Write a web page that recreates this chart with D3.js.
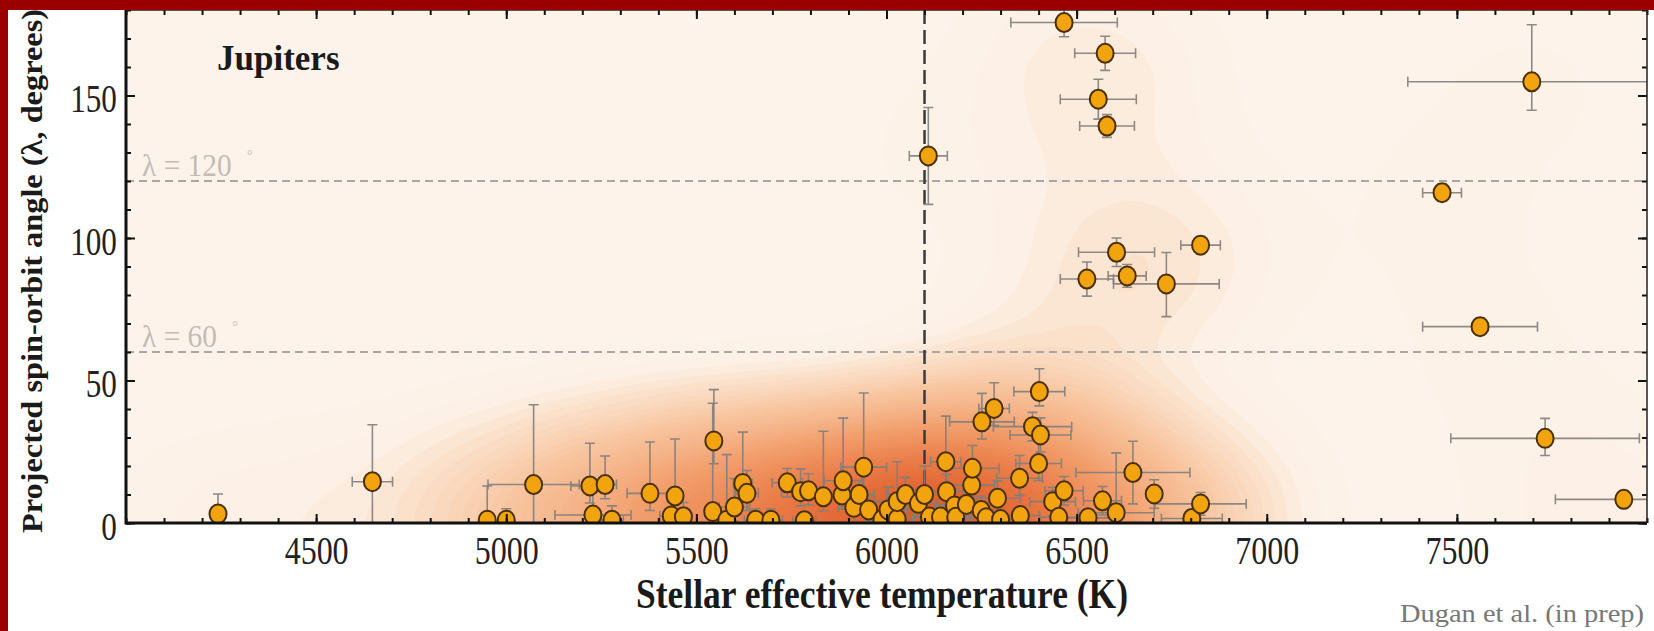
<!DOCTYPE html>
<html lang="en">
<head>
<meta charset="UTF-8">
<title>Spin-orbit angle vs stellar temperature</title>
<script src="https://cdnjs.cloudflare.com/ajax/libs/d3/7.9.0/d3.min.js"></script>
<style>
  body { margin: 0; background: #fff; overflow: hidden; }
  svg { display: block; }
</style>
</head>
<body>
<div id="root"></div>
<script>
// values
const teff = [4242, 4648, 4950, 5000, 5072, 5220, 5228, 5260, 5278, 5378, 5434, 5444, 5466, 5543, 5546, 5580, 5600, 5622, 5633, 5656,
  5696, 5739, 5774, 5784, 5795, 5834, 5883, 5886, 5914, 5928, 5940, 5953, 5988, 6004, 6028, 6028, 6050, 6084, 6100, 6113,
  6142, 6156, 6158, 6179, 6182, 6210, 6224, 6226, 6249, 6251, 6262, 6283, 6292, 6300, 6350, 6352, 6384, 6400, 6402, 6405,
  6437, 6453, 6467, 6530, 6568, 6604, 6648, 6704, 6803, 6826,
  6110, 6467, 6527, 6557, 6575, 6580, 6605, 6633, 6736, 6826, 7461, 7561, 7697, 7732, 7939]
const lambda = [3.2, 14.5, 1, 1, 13.5, 13, 2.8, 13.5, 1, 10.4, 2.5, 9.5, 2.2, 4, 28.8, 1, 5.6, 13.9, 10.4, 1,
  1, 14.1, 11, 0.8, 11.3, 9.2, 9.8, 14.8, 5.5, 10, 19.6, 4.6, 1.2, 4.6, 1.4, 7.5, 10, 6.9, 10, 2.1,
  2.1, 21.5, 11, 6, 2, 6.5, 13.3, 19.2, 4.4, 35.5, 1.8, 40.2, 8.7, 1.2, 15.7, 2.6, 33.8, 20.9, 46.1, 30.9,
  7.5, 2, 11.3, 1.8, 7.8, 3.6, 17.7, 10.2, 1.6, 6.7,
  128.8, 175.6, 85.6, 148.7, 164.8, 139.3, 95, 86.7, 83.9, 97.5, 115.9, 68.9, 154.8, 29.7, 8.3]
const teffErr = [0, 53, 10, 0, 120, 50, 100, 30, 30, 60, 30, 20, 20, 20, 15, 20, 40, 25, 30, 30,
  30, 40, 50, 30, 30, 40, 40, 50, 40, 40, 60, 40, 40, 50, 40, 60, 50, 50, 60, 40,
  40, 40, 50, 50, 40, 60, 60, 70, 50, 85, 40, 40, 60, 50, 60, 50, 103, 60, 67, 80,
  60, 50, 50, 60, 50, 100, 150, 20, 80, 120,
  50, 140, 70, 100, 80, 72, 100, 50, 139, 52, 51, 151, 326, 248, 180]
const lamErrUp = [7, 20, 12, 4, 28, 15, 8, 10, 5, 18, 5, 20, 5, 38, 18, 23, 10, 18, 8, 4,
  4, 5, 8, 3, 6, 23, 6, 22, 5, 5, 26, 5, 3, 8, 3, 14, 6, 5, 10, 3,
  4, 16, 6, 6, 3, 5, 8, 8, 5, 10, 3, 9, 6, 3, 8, 3, 5, 9, 8, 6,
  5, 3, 5, 3, 5, 21, 11, 5, 3, 4,
  17, 5, 6, 7, 6, 4, 5, 4, 11, 3, 3, 3, 20, 7, 3]
const lamErrDown = [3, 14.5, 1, 1, 13.5, 6, 2.8, 5, 1, 6, 2.5, 6, 2.2, 4, 8, 1, 5, 6, 6, 1,
  1, 5, 5, 0.8, 5, 5, 5, 6, 5, 5, 8, 4, 1.2, 4, 1.4, 5, 5, 5, 6, 2.1,
  2.1, 8, 5, 5, 2, 5, 6, 6, 4, 6, 1.8, 6, 5, 1.2, 6, 2.6, 5, 6, 5, 6,
  5, 2, 5, 1.8, 5, 3.6, 11, 5, 1.6, 4,
  17, 5, 6, 7, 6, 4, 5, 4, 11.5, 3, 3, 3, 10, 6, 3]

const xTicks = [4500, 5000, 5500, 6000, 6500, 7000, 7500]
const yTicks = [0, 50, 100, 150]
const refLines = [60, 120]
const kraftBreak = 6100

const W = 1654, H = 631
const plot = { left: 126, right: 1647, top: 10, bottom: 523 }

const svg = d3.select('#root').append('svg')
  .attr('width', W).attr('height', H)

svg.append('rect').attr('width', W).attr('height', H).attr('fill', '#fff')

const x = d3.scaleLinear().domain([4000, 8000]).range([plot.left, plot.right])
const y = d3.scaleLinear().domain([0, 180]).range([plot.bottom, plot.top])

svg.append('clipPath').attr('id', 'clip')
  .append('rect')
  .attr('x', plot.left).attr('y', plot.top)
  .attr('width', plot.right - plot.left).attr('height', plot.bottom - plot.top)

const inner = svg.append('g').attr('clip-path', 'url(#clip)')

// background density (reflected about lambda = 0)
inner.append('rect')
  .attr('x', plot.left).attr('y', plot.top)
  .attr('width', plot.right - plot.left).attr('height', plot.bottom - plot.top)
  .attr('fill', '#fdf3eb')

const stretch = 1.3
const pts = teff.flatMap((t, i) => [[x(t), y(lambda[i])], [x(t), y(-lambda[i])]])
const dens = d3.contourDensity()
  .x(d => d[0])
  .y(d => d[1] * stretch)
  .size([W, H * stretch])
  .bandwidth(80)
  .thresholds(70)(pts)

const maxD = d3.max(dens, d => d.value)
const heat = d3.scaleLinear()
  .domain([0, 0.04, 0.08, 0.2, 0.45, 0.75, 1].map(f => f * maxD))
  .range(['#fdf3eb', '#fdf0e5', '#fbe2cd', '#f8c7a2', '#f2a06e', '#e97944', '#de5d2a'])

inner.append('g')
  .attr('transform', `scale(1, ${1 / stretch})`)
  .selectAll('path')
  .data(dens)
  .join('path')
  .attr('d', d3.geoPath())
  .attr('fill', d => heat(d.value))

// reference lines
inner.selectAll('.ref')
  .data(refLines)
  .join('line')
  .attr('x1', plot.left).attr('x2', plot.right)
  .attr('y1', d => y(d)).attr('y2', d => y(d))
  .attr('stroke', '#a9a6a3').attr('stroke-width', 2)
  .attr('stroke-dasharray', '8,5')

inner.append('line')
  .attr('x1', x(kraftBreak)).attr('x2', x(kraftBreak))
  .attr('y1', plot.top).attr('y2', plot.bottom)
  .attr('stroke', '#3a3a3a').attr('stroke-width', 2.5)
  .attr('stroke-dasharray', '14,6')

const refLab = svg.append('g')
  .attr('font-family', "'Liberation Serif', serif")
  .attr('fill', '#c4bcb4')
refLines.forEach(v => {
  const t = refLab.append('text')
    .attr('transform', `translate(${plot.left + 16},${y(v) - 5}) scale(0.95,1)`)
    .attr('font-size', 31)
  t.append('tspan').text(`λ = ${v}`)
  t.append('tspan').attr('dx', 16).attr('dy', -16).attr('font-size', 15).text('°')
})

// error bars
const idx = d3.range(teff.length)
const bars = inner.append('g')
  .attr('stroke', '#817e7c').attr('stroke-width', 1.6).attr('fill', 'none')
  .attr('stroke-opacity', 0.9)
const cap = 5

idx.filter(i => teffErr[i] > 0).forEach(i => {
  const x0 = x(teff[i] - teffErr[i]), x1 = x(teff[i] + teffErr[i]), yy = y(lambda[i])
  bars.append('path')
    .attr('d', `M${x0},${yy}H${x1}M${x0},${yy - cap}V${yy + cap}M${x1},${yy - cap}V${yy + cap}`)
})
idx.forEach(i => {
  const y0 = y(Math.max(0, lambda[i] - lamErrDown[i])), y1 = y(lambda[i] + lamErrUp[i]), xx = x(teff[i])
  bars.append('path')
    .attr('d', `M${xx},${y0}V${y1}M${xx - cap},${y1}H${xx + cap}` +
      (lambda[i] - lamErrDown[i] > 0.5 ? `M${xx - cap},${y0}H${xx + cap}` : ''))
})

// planets
inner.append('g')
  .selectAll('ellipse')
  .data(idx)
  .join('ellipse')
  .attr('cx', i => x(teff[i]))
  .attr('cy', i => y(lambda[i]))
  .attr('rx', 8.5).attr('ry', 9.5)
  .attr('fill', '#f2a40e')
  .attr('stroke', '#4b2f05').attr('stroke-width', 2)

// frame and axes
const serif = "'Liberation Serif', 'Times New Roman', serif"

function styleAxis(g) {
  g.select('.domain').remove()
  g.selectAll('line').attr('stroke', '#111').attr('stroke-width', 2)
}

const xMinor = d3.range(4000, 8001, 100)
const yMinor = d3.range(0, 181, 10)

const xb = svg.append('g').attr('transform', `translate(0,${plot.bottom})`)
  .call(d3.axisBottom(x).tickValues(xMinor).tickSize(-5).tickFormat(''))
  .call(styleAxis)
xb.append('g').call(d3.axisBottom(x).tickValues(xTicks).tickSize(-9).tickPadding(13).tickFormat(d3.format('d')))
  .call(styleAxis)
  .selectAll('text')
  .attr('font-family', serif).attr('font-size', 40).attr('fill', '#222')
  .attr('transform', 'scale(0.8,1)')

const xt = svg.append('g').attr('transform', `translate(0,${plot.top})`)
  .call(d3.axisTop(x).tickValues(xMinor).tickSize(-5).tickFormat(''))
  .call(styleAxis)
xt.append('g').call(d3.axisTop(x).tickValues(xTicks).tickSize(-9).tickFormat(''))
  .call(styleAxis)

const yl = svg.append('g').attr('transform', `translate(${plot.left},0)`)
  .call(d3.axisLeft(y).tickValues(yMinor).tickSize(-5).tickFormat(''))
  .call(styleAxis)
yl.append('g').call(d3.axisLeft(y).tickValues(yTicks).tickSize(-9).tickPadding(12))
  .call(styleAxis)
  .selectAll('text')
  .attr('font-family', serif).attr('font-size', 41).attr('fill', '#222')
  .attr('dy', '0.4em')
  .attr('transform', 'scale(0.76,1)')

const yr = svg.append('g').attr('transform', `translate(${plot.right},0)`)
  .call(d3.axisRight(y).tickValues(yMinor).tickSize(-5).tickFormat(''))
  .call(styleAxis)
yr.append('g').call(d3.axisRight(y).tickValues(yTicks).tickSize(-9).tickFormat(''))
  .call(styleAxis)

svg.append('path')
  .attr('d', `M${plot.left},${plot.top}V${plot.bottom}H${plot.right}`)
  .attr('fill', 'none').attr('stroke', '#111').attr('stroke-width', 3)
svg.append('path')
  .attr('d', `M${plot.left},${plot.top}H${plot.right}V${plot.bottom}`)
  .attr('fill', 'none').attr('stroke', '#222').attr('stroke-width', 1.5)

// labels
svg.append('text')
  .attr('x', 217).attr('y', 70)
  .attr('font-family', serif).attr('font-weight', 'bold').attr('font-size', 35)
  .attr('fill', '#1a1a1a')
  .text('Jupiters')

svg.append('text')
  .attr('x', 636).attr('y', 608)
  .attr('textLength', 492).attr('lengthAdjust', 'spacingAndGlyphs')
  .attr('font-family', serif).attr('font-weight', 'bold').attr('font-size', 42)
  .attr('fill', '#1a1a1a')
  .text('Stellar effective temperature (K)')

svg.append('text')
  .attr('transform', 'translate(42,533) rotate(-90)')
  .attr('textLength', 524).attr('lengthAdjust', 'spacingAndGlyphs')
  .attr('font-family', serif).attr('font-weight', 'bold').attr('font-size', 29)
  .attr('fill', '#1a1a1a')
  .text('Projected spin-orbit angle (λ, degrees)')

svg.append('text')
  .attr('x', 1400).attr('y', 622)
  .attr('textLength', 244).attr('lengthAdjust', 'spacingAndGlyphs')
  .attr('font-family', serif).attr('font-size', 25)
  .attr('fill', '#777')
  .text('Dugan et al. (in prep)')

// slide frame
svg.append('rect').attr('x', 0).attr('y', 0).attr('width', W).attr('height', 10).attr('fill', '#9a0000')
svg.append('rect').attr('x', 0).attr('y', 0).attr('width', 8).attr('height', H).attr('fill', '#9a0000')
</script>
</body>
</html>
